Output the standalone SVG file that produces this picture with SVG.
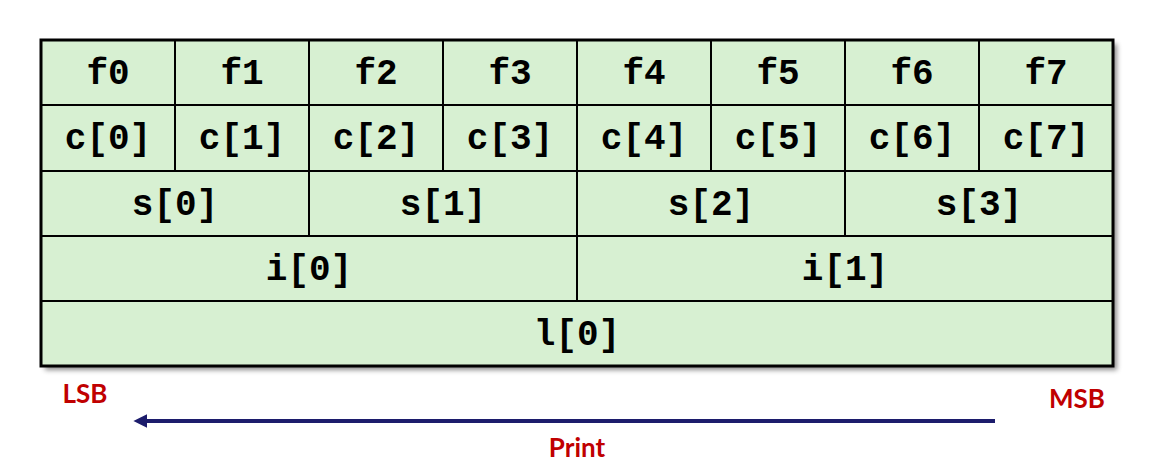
<svg xmlns="http://www.w3.org/2000/svg" width="1170" height="468" viewBox="0 0 1170 468">
<defs>
<filter id="sh" x="-5%" y="-5%" width="110%" height="115%">
<feDropShadow dx="4" dy="4" stdDeviation="2.5" flood-color="#000" flood-opacity="0.45"/>
</filter>
<marker id="ah" viewBox="0 0 10 10" refX="1" refY="5" markerWidth="14" markerHeight="14" markerUnits="userSpaceOnUse" orient="auto-start-reverse">
<path d="M0,0 L10,5 L0,10 Z" fill="#1C1C6C"/>
</marker>
<style>
.c{fill:#D7F0D2;stroke:#000;stroke-width:2}
.t{font-family:"Liberation Mono","Courier New",monospace;font-weight:bold;font-size:36px;fill:#000;text-anchor:middle}
.r{font-family:Lato,"Open Sans",sans-serif;font-weight:bold;font-size:26px;fill:#C00000;text-anchor:middle}
</style>
</defs>
<rect x="41" y="40" width="1072" height="326" fill="#D7F0D2" filter="url(#sh)"/>
<g id="row-f">
<g id="f0"><rect class="c" x="41" y="40" width="134" height="65"/><text class="t" x="108" y="84">f0</text></g>
<g id="f1"><rect class="c" x="175" y="40" width="134" height="65"/><text class="t" x="242" y="84">f1</text></g>
<g id="f2"><rect class="c" x="309" y="40" width="134" height="65"/><text class="t" x="376" y="84">f2</text></g>
<g id="f3"><rect class="c" x="443" y="40" width="134" height="65"/><text class="t" x="510" y="84">f3</text></g>
<g id="f4"><rect class="c" x="577" y="40" width="134" height="65"/><text class="t" x="644" y="84">f4</text></g>
<g id="f5"><rect class="c" x="711" y="40" width="134" height="65"/><text class="t" x="778" y="84">f5</text></g>
<g id="f6"><rect class="c" x="845" y="40" width="134" height="65"/><text class="t" x="912" y="84">f6</text></g>
<g id="f7"><rect class="c" x="979" y="40" width="134" height="65"/><text class="t" x="1046" y="84">f7</text></g>
</g>
<g id="row-c">
<g id="c0"><rect class="c" x="41" y="105" width="134" height="66"/><text class="t" x="108" y="149">c[0]</text></g>
<g id="c1"><rect class="c" x="175" y="105" width="134" height="66"/><text class="t" x="242" y="149">c[1]</text></g>
<g id="c2"><rect class="c" x="309" y="105" width="134" height="66"/><text class="t" x="376" y="149">c[2]</text></g>
<g id="c3"><rect class="c" x="443" y="105" width="134" height="66"/><text class="t" x="510" y="149">c[3]</text></g>
<g id="c4"><rect class="c" x="577" y="105" width="134" height="66"/><text class="t" x="644" y="149">c[4]</text></g>
<g id="c5"><rect class="c" x="711" y="105" width="134" height="66"/><text class="t" x="778" y="149">c[5]</text></g>
<g id="c6"><rect class="c" x="845" y="105" width="134" height="66"/><text class="t" x="912" y="149">c[6]</text></g>
<g id="c7"><rect class="c" x="979" y="105" width="134" height="66"/><text class="t" x="1046" y="149">c[7]</text></g>
</g>
<g id="row-s">
<g id="s0"><rect class="c" x="41" y="171" width="268" height="65"/><text class="t" x="175" y="215">s[0]</text></g>
<g id="s1"><rect class="c" x="309" y="171" width="268" height="65"/><text class="t" x="443" y="215">s[1]</text></g>
<g id="s2"><rect class="c" x="577" y="171" width="268" height="65"/><text class="t" x="711" y="215">s[2]</text></g>
<g id="s3"><rect class="c" x="845" y="171" width="268" height="65"/><text class="t" x="979" y="215">s[3]</text></g>
</g>
<g id="row-i">
<g id="i0"><rect class="c" x="41" y="236" width="536" height="65"/><text class="t" x="309" y="280">i[0]</text></g>
<g id="i1"><rect class="c" x="577" y="236" width="536" height="65"/><text class="t" x="845" y="280">i[1]</text></g>
</g>
<g id="row-l">
<g id="l0"><rect class="c" x="41" y="301" width="1072" height="65"/><text class="t" x="577" y="345">l[0]</text></g>
</g>
<rect x="41" y="40" width="1072" height="326" fill="none" stroke="#000" stroke-width="3"/>
<g id="connectors">
<line x1="995" y1="421" x2="146" y2="421" stroke="#1C1C6C" stroke-width="4" marker-end="url(#ah)"/>
</g>
<g id="labels">
<text class="r" x="85" y="403">LSB</text>
<text class="r" x="1077" y="408">MSB</text>
<text class="r" x="577" y="457">Print</text>
</g>
</svg>
